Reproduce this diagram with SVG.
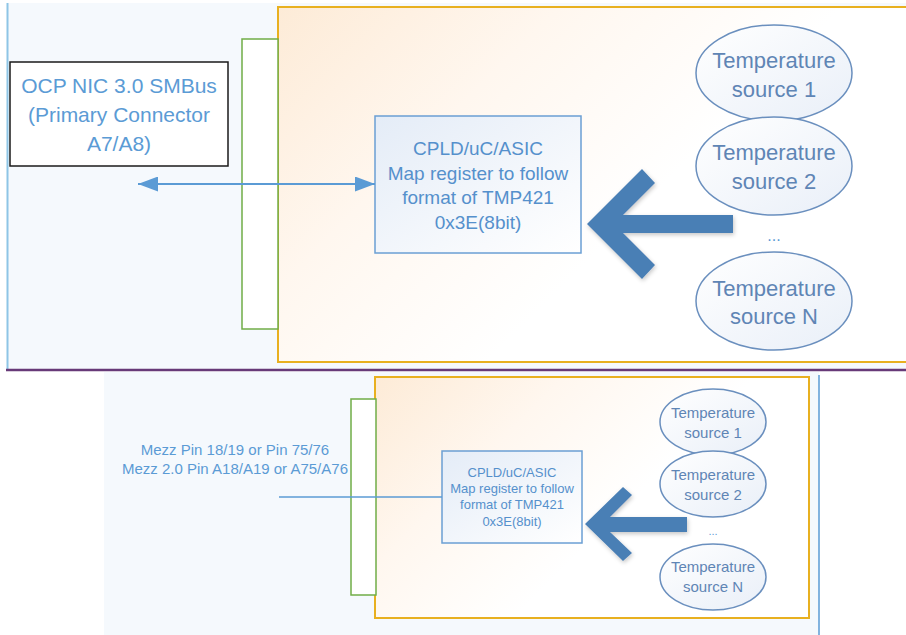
<svg xmlns="http://www.w3.org/2000/svg" width="906" height="635" viewBox="0 0 906 635">
<defs>
<linearGradient id="gOrangeTop" gradientUnits="userSpaceOnUse" x1="278" y1="7" x2="560" y2="289">
<stop offset="0" stop-color="#fdebd7"/>
<stop offset="0.5" stop-color="#fff7ef"/>
<stop offset="1" stop-color="#ffffff"/>
</linearGradient>
<linearGradient id="gOrangeBot" gradientUnits="userSpaceOnUse" x1="375" y1="377" x2="565" y2="567">
<stop offset="0" stop-color="#fdebd7"/>
<stop offset="0.5" stop-color="#fff7ef"/>
<stop offset="1" stop-color="#ffffff"/>
</linearGradient>
<linearGradient id="gBlueBox" x1="0" y1="0" x2="1" y2="1">
<stop offset="0" stop-color="#e4ecf7"/>
<stop offset="1" stop-color="#ffffff"/>
</linearGradient>
<linearGradient id="gEll" x1="0" y1="0" x2="1" y2="1">
<stop offset="0" stop-color="#ffffff"/>
<stop offset="1" stop-color="#e9eff8"/>
</linearGradient>
<filter id="shadow" x="-20%" y="-20%" width="140%" height="140%">
<feDropShadow dx="1" dy="2" stdDeviation="2" flood-color="#000000" flood-opacity="0.22"/>
</filter>
<marker id="arr" viewBox="0 0 20 15" refX="20" refY="7.5" markerWidth="20" markerHeight="15" markerUnits="userSpaceOnUse" orient="auto-start-reverse">
<path d="M0,0 L20,7.5 L0,15 Z" fill="#5b9bd5"/>
</marker>
</defs>
<style>
.bg{fill:#f5f9fd;}
.orange{stroke:#e8b020;stroke-width:2;}
.green{fill:#ffffff;stroke:#70ad47;stroke-width:1.5;}
.cpld{fill:url(#gBlueBox);stroke:#6b9fd4;stroke-width:1.5;}
.ell{fill:url(#gEll);stroke:#6a8fbe;stroke-width:1.5;}
.big{fill:#4a7fb5;filter:url(#shadow);}
text{font-family:"Liberation Sans",Arial,sans-serif;text-anchor:middle;}
.t-blue{fill:#5b9bd5;}
.t-cpld{fill:#5590cc;}
.t-ell{fill:#5f85b5;}
.conn{stroke:#5b9bd5;fill:none;}
</style>

<!-- backgrounds -->
<rect class="bg" x="7" y="3" width="899" height="367"/>
<rect class="bg" x="104" y="372" width="715" height="263"/>
<line x1="7.5" y1="3" x2="7.5" y2="370" stroke="#8ec5e6" stroke-width="2"/>
<line x1="819" y1="375" x2="819" y2="635" stroke="#5b9bd5" stroke-width="1.5"/>
<line x1="6" y1="370" x2="906" y2="370" stroke="#673a78" stroke-width="2.5"/>

<!-- TOP PANEL -->
<g id="top-board">
<rect class="orange" fill="url(#gOrangeTop)" x="278" y="7" width="640" height="355"/>
</g>
<g id="top-connector">
<rect class="green" x="242" y="39" width="36" height="290"/>
</g>
<g id="top-smbus">
<rect x="10" y="62" width="218" height="104" fill="#ffffff" stroke="#1a1a1a" stroke-width="1.5"/>
<text class="t-blue" font-size="21"><tspan x="119" y="93">OCP NIC 3.0 SMBus</tspan><tspan x="119" y="122">(Primary Connector</tspan><tspan x="119" y="151">A7/A8)</tspan></text>
</g>
<g id="top-cpld">
<rect class="cpld" x="375" y="116" width="206" height="137"/>
<text class="t-cpld" font-size="19"><tspan x="478" y="155">CPLD/uC/ASIC</tspan><tspan x="478" y="180">Map register to follow</tspan><tspan x="478" y="204">format of TMP421</tspan><tspan x="478" y="229">0x3E(8bit)</tspan></text>
</g>
<g id="top-arrow">
<polygon class="big" points="587,224 642,169 655,183 623,215 733,215 733,233 623,233 655,265 642,279"/>
</g>
<g id="top-temp1">
<ellipse class="ell" cx="774" cy="73" rx="78" ry="48"/>
<text class="t-ell" font-size="22"><tspan x="774" y="68">Temperature</tspan><tspan x="774" y="97">source 1</tspan></text>
</g>
<g id="top-temp2">
<ellipse class="ell" cx="774" cy="166" rx="78" ry="49"/>
<text class="t-ell" font-size="22"><tspan x="774" y="160">Temperature</tspan><tspan x="774" y="189">source 2</tspan></text>
</g>
<g id="top-dots">
<text class="t-blue" font-size="16" x="774" y="241">...</text>
</g>
<g id="top-tempN">
<ellipse class="ell" cx="774" cy="301" rx="78" ry="49"/>
<text class="t-ell" font-size="22"><tspan x="774" y="296">Temperature</tspan><tspan x="774" y="324">source N</tspan></text>
</g>

<!-- BOTTOM PANEL -->
<g id="bottom-board">
<rect class="orange" fill="url(#gOrangeBot)" x="375" y="377" width="434" height="241"/>
</g>
<g id="bottom-connector">
<rect class="green" x="351" y="399" width="25" height="196"/>
</g>
<g id="bottom-label">
<text class="t-blue" font-size="15"><tspan x="235" y="455">Mezz Pin 18/19 or Pin 75/76</tspan><tspan x="235" y="474">Mezz 2.0 Pin A18/A19 or A75/A76</tspan></text>
</g>
<g id="bottom-cpld">
<rect class="cpld" x="442" y="451" width="140" height="92"/>
<text class="t-cpld" font-size="13"><tspan x="512" y="477">CPLD/uC/ASIC</tspan><tspan x="512" y="493">Map register to follow</tspan><tspan x="512" y="509">format of TMP421</tspan><tspan x="512" y="526">0x3E(8bit)</tspan></text>
</g>
<g id="bottom-arrow">
<polygon class="big" points="585,524 623,487 632,495 610,517 687,517 687,532 610,532 632,553 623,561"/>
</g>
<g id="bottom-temp1">
<ellipse class="ell" cx="713" cy="422" rx="53" ry="33"/>
<text class="t-ell" font-size="15"><tspan x="713" y="418">Temperature</tspan><tspan x="713" y="438">source 1</tspan></text>
</g>
<g id="bottom-temp2">
<ellipse class="ell" cx="713" cy="484" rx="53" ry="33"/>
<text class="t-ell" font-size="15"><tspan x="713" y="480">Temperature</tspan><tspan x="713" y="500">source 2</tspan></text>
</g>
<g id="bottom-dots">
<text class="t-blue" font-size="11" x="713" y="535">...</text>
</g>
<g id="bottom-tempN">
<ellipse class="ell" cx="713" cy="577" rx="53" ry="33"/>
<text class="t-ell" font-size="15"><tspan x="713" y="572">Temperature</tspan><tspan x="713" y="592">source N</tspan></text>
</g>

<!-- connectors -->
<g id="connectors">
<line class="conn" x1="138" y1="184" x2="375" y2="184" stroke-width="2" marker-start="url(#arr)" marker-end="url(#arr)"/>
<line class="conn" x1="279" y1="497" x2="442" y2="497" stroke-width="1.5"/>
</g>
</svg>
